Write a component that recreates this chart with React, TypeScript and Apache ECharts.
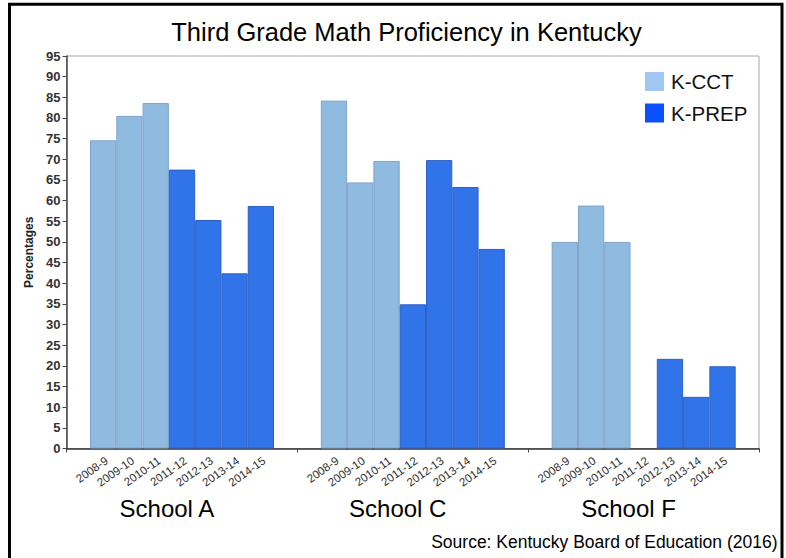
import React, { useEffect, useRef } from "react";
import * as echarts from "echarts";

// School years shown under every school's group of bars
const years = ["2008-9", "2009-10", "2010-11", "2011-12", "2012-13", "2013-14", "2014-15"];
const schools = ["School A", "School C", "School F"];

// Percent proficient, K-CCT (2008-9 .. 2010-11) and K-PREP (2011-12 .. 2014-15)
const kcctA = [74.6, 80.5, 83.6];
const kprepA = [67.5, 55.3, 42.4, 58.7];
const kcctC = [84.2, 64.4, 69.6];
const kprepC = [34.9, 69.8, 63.3, 48.3];
const kcctF = [50.0, 58.8, 50.0];
const kprepF: (number | null)[] = [null, 21.7, 12.5, 19.9];

const kcctBySchool = [kcctA, kcctC, kcctF];
const kprepBySchool = [kprepA, kprepC, kprepF];

const yTicksMax = 95;
const yTickStep = 5;

const FONT = '"Liberation Sans", Arial, Helvetica, sans-serif';

// Plot frame and the bar block inside each school's section
const PLOT_LEFT = 66.5;
const PLOT_TOP = 56;
const PLOT_W = 692.5;
const PLOT_H = 392.5;
const GROUP_PAD = 23.5;
const BARS_W = 184;

const LIGHT = { fill: "#90bbe1", border: "#7fa3c8" };
const DARK = { fill: "#3173e8", border: "#2c60c2" };

export default function App() {
  const ref = useRef<HTMLDivElement>(null);

  useEffect(() => {
    if (!ref.current) return;
    const chart = echarts.init(ref.current, undefined, { renderer: "svg" });

    const groupW = PLOT_W / schools.length;
    const nK = years.length;

    const grids: any[] = [
      {
        left: PLOT_LEFT,
        top: PLOT_TOP,
        width: PLOT_W,
        height: PLOT_H,
        show: true,
        borderColor: "#a8a8a8",
        borderWidth: 1,
        backgroundColor: "transparent",
      },
    ];
    const xAxes: any[] = [
      {
        type: "category",
        gridIndex: 0,
        data: schools,
        boundaryGap: true,
        axisLine: { show: true, lineStyle: { color: "#333", width: 1.5 } },
        axisTick: { show: true, length: 4, lineStyle: { color: "#444" } },
        axisLabel: {
          fontSize: 24,
          color: "#000",
          fontFamily: FONT,
          margin: 48,
          padding: [0, 30, 0, 0],
        },
        splitLine: { show: false },
      },
    ];
    const yAxes: any[] = [
      {
        type: "value",
        gridIndex: 0,
        min: 0,
        max: yTicksMax,
        interval: yTickStep,
        axisLine: { show: true, lineStyle: { color: "#444", width: 1.5 } },
        axisTick: { show: true, length: 4, lineStyle: { color: "#444" } },
        axisLabel: {
          fontSize: 13,
          fontWeight: "bold",
          color: "#333",
          fontFamily: FONT,
          margin: 6,
        },
        splitLine: { show: false },
        name: "Percentages",
        nameLocation: "middle",
        nameGap: 29,
        nameTextStyle: { fontSize: 12, fontWeight: "bold", color: "#222", fontFamily: FONT },
      },
    ];
    const series: any[] = [];

    schools.forEach((_, g) => {
      const idx = g + 1;
      grids.push({
        left: PLOT_LEFT + g * groupW + GROUP_PAD,
        top: PLOT_TOP,
        width: BARS_W,
        height: PLOT_H,
      });
      xAxes.push({
        type: "category",
        gridIndex: idx,
        data: years,
        boundaryGap: true,
        axisLine: { show: false },
        axisTick: { show: false },
        axisLabel: {
          interval: 0,
          rotate: 35,
          fontSize: 11.5,
          color: "#333",
          fontFamily: FONT,
          margin: 6,
          verticalAlign: "top",
        },
      });
      yAxes.push({ type: "value", gridIndex: idx, min: 0, max: yTicksMax, show: false });

      const kcct = kcctBySchool[g];
      const kprep = kprepBySchool[g];
      const kcctData = years.map((_, i) => (i < kcct.length ? kcct[i] : null));
      const kprepData = years.map((_, i) => {
        const j = i - (nK - kprep.length);
        return j >= 0 ? kprep[j] : null;
      });

      series.push({
        name: "K-CCT",
        type: "bar",
        xAxisIndex: idx,
        yAxisIndex: idx,
        data: kcctData,
        barWidth: "100%",
        barGap: "-100%",
        itemStyle: { color: LIGHT.fill, borderColor: LIGHT.border, borderWidth: 1 },
      });
      series.push({
        name: "K-PREP",
        type: "bar",
        xAxisIndex: idx,
        yAxisIndex: idx,
        data: kprepData,
        barWidth: "100%",
        barGap: "-100%",
        itemStyle: { color: DARK.fill, borderColor: DARK.border, borderWidth: 1 },
      });
    });

    chart.setOption({
      animation: false,
      backgroundColor: "#fff",
      textStyle: { fontFamily: FONT },
      grid: grids,
      xAxis: xAxes,
      yAxis: yAxes,
      series,
      legend: {
        orient: "vertical",
        left: 645,
        top: 71,
        padding: 0,
        itemWidth: 19,
        itemHeight: 19,
        itemGap: 10.5,
        icon: "rect",
        selectedMode: false,
        textStyle: { fontSize: 20.5, color: "#111", fontFamily: FONT, padding: [0, 0, 0, 2] },
        data: [
          { name: "K-CCT", itemStyle: { color: "#a0c6f2", borderWidth: 0 } },
          { name: "K-PREP", itemStyle: { color: "#0a50ff", borderWidth: 0 } },
        ],
      },
      graphic: [
        {
          type: "rect",
          silent: true,
          z: 100,
          shape: { x: 9.5, y: 4.2, width: 772.5, height: 620 },
          style: { fill: "none", stroke: "#000", lineWidth: 3 },
        },
        {
          type: "text",
          silent: true,
          x: 406.5,
          y: 32,
          style: {
            text: "Third Grade Math Proficiency in Kentucky",
            font: `25.5px ${FONT}`,
            fill: "#000",
            align: "center",
            verticalAlign: "middle",
            textAlign: "center",
            textVerticalAlign: "middle",
          },
        },
        {
          type: "text",
          silent: true,
          x: 777.5,
          y: 541.5,
          style: {
            text: "Source: Kentucky Board of Education (2016)",
            font: `17.5px ${FONT}`,
            fill: "#000",
            align: "right",
            verticalAlign: "middle",
            textAlign: "right",
            textVerticalAlign: "middle",
          },
        },
      ],
    });

    return () => chart.dispose();
  }, []);

  return (
    <div
      ref={ref}
      style={{ position: "fixed", left: 0, top: 0, width: 786, height: 558 }}
    />
  );
}
